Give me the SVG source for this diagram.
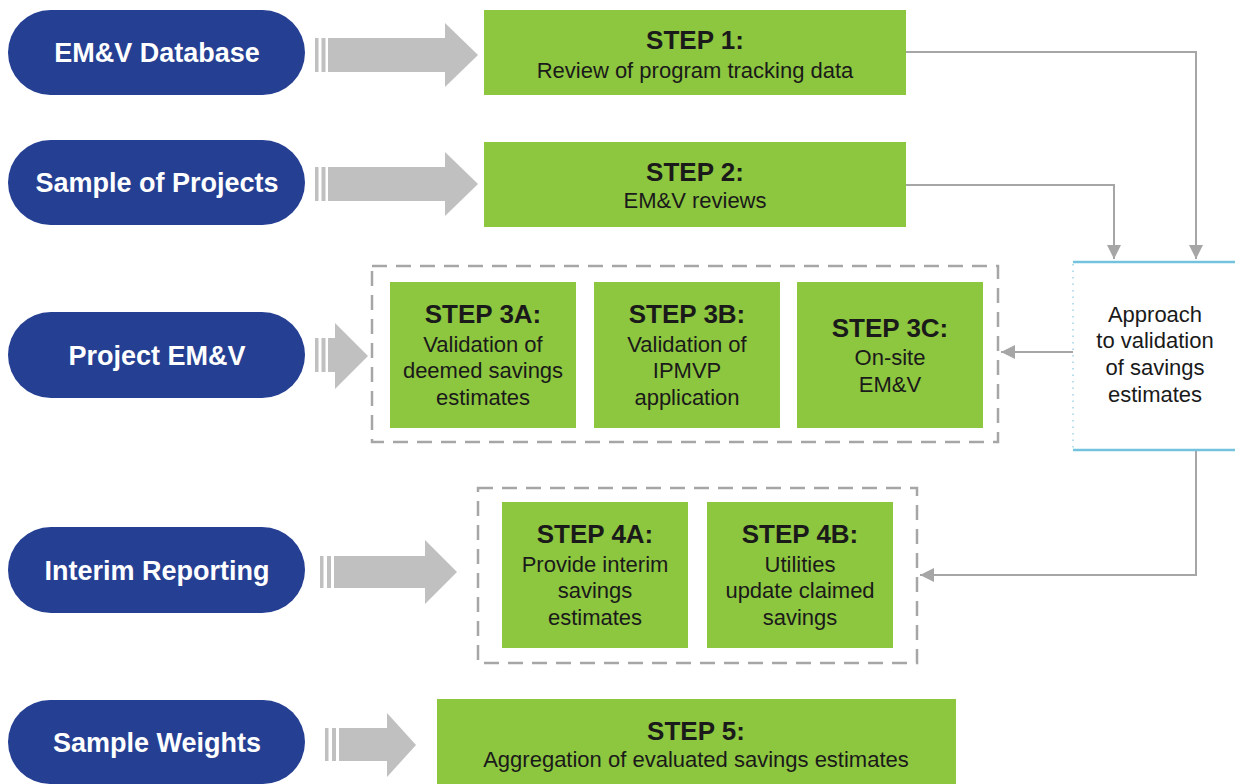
<svg xmlns="http://www.w3.org/2000/svg" width="1235" height="784" viewBox="0 0 1235 784">
<defs>
<style>
.pill{fill:#253f93}
.ptxt{font-family:"Liberation Sans",Arial,sans-serif;font-weight:bold;font-size:27px;fill:#ffffff;text-anchor:middle}
.step{fill:#8dc63f}
.t{font-family:"Liberation Sans",Arial,sans-serif;font-weight:bold;font-size:26px;fill:#1a1a1a;text-anchor:middle}
.b{font-family:"Liberation Sans",Arial,sans-serif;font-size:22px;fill:#1a1a1a;text-anchor:middle}
.big{fill:#c0c0c0}
.dash{fill:none;stroke:#a6a6a6;stroke-width:2.5;stroke-dasharray:15 9}
.conn{fill:none;stroke:#a6a6a6;stroke-width:2}
</style>
<marker id="ah" viewBox="0 0 10 10" refX="10" refY="5" markerWidth="7" markerHeight="7" orient="auto" markerUnits="strokeWidth">
<path d="M0,0 L10,5 L0,10 Z" fill="#a6a6a6"/>
</marker>
</defs>
<rect width="1235" height="784" fill="#ffffff"/>

<!-- pills -->
<g id="pill1"><rect class="pill" x="8" y="10" width="297" height="85" rx="42.5"/><text class="ptxt" x="157" y="62">EM&amp;V Database</text></g>
<g id="pill2"><rect class="pill" x="8" y="140" width="297" height="85" rx="42.5"/><text class="ptxt" x="157" y="192">Sample of Projects</text></g>
<g id="pill3"><rect class="pill" x="8" y="312" width="297" height="86" rx="43"/><text class="ptxt" x="157" y="365">Project EM&amp;V</text></g>
<g id="pill4"><rect class="pill" x="8" y="527" width="297" height="86" rx="43"/><text class="ptxt" x="157" y="580">Interim Reporting</text></g>
<g id="pill5"><rect class="pill" x="8" y="700" width="297" height="84" rx="42"/><text class="ptxt" x="157" y="752">Sample Weights</text></g>

<!-- block arrows -->
<g id="bigarrows">
<g><rect class="big" x="315" y="38" width="3.5" height="34"/><rect class="big" x="321.5" y="38" width="4" height="34"/><path class="big" d="M328,38 H445 V23 L478,55 L445,87 V72 H328 Z"/></g>
<g><rect class="big" x="315" y="167" width="3.5" height="34"/><rect class="big" x="321.5" y="167" width="4" height="34"/><path class="big" d="M328,167 H445 V152 L478,184 L445,216 V201 H328 Z"/></g>
<g><rect class="big" x="315" y="338" width="3.5" height="34"/><rect class="big" x="321.5" y="338" width="4" height="34"/><path class="big" d="M328,338 H335 V323 L368,356 L335,389 V372 H328 Z"/></g>
<g><rect class="big" x="320" y="556" width="3.5" height="32"/><rect class="big" x="327" y="556" width="4" height="32"/><path class="big" d="M334,556 H425 V540 L457,572 L425,604 V588 H334 Z"/></g>
<g><rect class="big" x="325" y="728" width="3.5" height="33"/><rect class="big" x="332" y="728" width="4" height="33"/><path class="big" d="M339,728 H387 V713 L416,745 L387,777 V761 H339 Z"/></g>
</g>

<!-- steps -->
<g id="step1"><rect class="step" x="484" y="10" width="422" height="85"/><text class="t" x="695" y="49">STEP 1:</text><text class="b" x="695" y="78">Review of program tracking data</text></g>
<g id="step2"><rect class="step" x="484" y="142" width="422" height="85"/><text class="t" x="695" y="181">STEP 2:</text><text class="b" x="695" y="208">EM&amp;V reviews</text></g>

<g id="group3"><rect class="dash" x="372" y="266" width="626" height="176"/></g>
<g id="step3a"><rect class="step" x="390" y="282" width="186" height="146"/><text class="t" x="483" y="323">STEP 3A:</text><text class="b" x="483" y="352">Validation of</text><text class="b" x="483" y="378">deemed savings</text><text class="b" x="483" y="405">estimates</text></g>
<g id="step3b"><rect class="step" x="594" y="282" width="186" height="146"/><text class="t" x="687" y="323">STEP 3B:</text><text class="b" x="687" y="352">Validation of</text><text class="b" x="687" y="378">IPMVP</text><text class="b" x="687" y="405">application</text></g>
<g id="step3c"><rect class="step" x="797" y="282" width="186" height="146"/><text class="t" x="890" y="337">STEP 3C:</text><text class="b" x="890" y="365">On-site</text><text class="b" x="890" y="392">EM&amp;V</text></g>

<g id="approach">
<rect x="1073" y="262" width="170" height="188" fill="#ffffff"/>
<line x1="1073" y1="262" x2="1235" y2="262" stroke="#74c2dd" stroke-width="2.5"/>
<line x1="1073" y1="450" x2="1235" y2="450" stroke="#74c2dd" stroke-width="2.5"/>
<line x1="1073" y1="264" x2="1073" y2="448" stroke="#9fd3e6" stroke-width="1.5" stroke-dasharray="1.5 5"/>
<text class="b" x="1155" y="322">Approach</text>
<text class="b" x="1155" y="348">to validation</text>
<text class="b" x="1155" y="375">of savings</text>
<text class="b" x="1155" y="402">estimates</text>
</g>

<g id="group4"><rect class="dash" x="478" y="488" width="439" height="175"/></g>
<g id="step4a"><rect class="step" x="502" y="502" width="186" height="146"/><text class="t" x="595" y="543">STEP 4A:</text><text class="b" x="595" y="572">Provide interim</text><text class="b" x="595" y="598">savings</text><text class="b" x="595" y="625">estimates</text></g>
<g id="step4b"><rect class="step" x="707" y="502" width="186" height="146"/><text class="t" x="800" y="543">STEP 4B:</text><text class="b" x="800" y="572">Utilities</text><text class="b" x="800" y="598">update claimed</text><text class="b" x="800" y="625">savings</text></g>

<g id="step5"><rect class="step" x="437" y="699" width="519" height="85"/><text class="t" x="696" y="740">STEP 5:</text><text class="b" x="696" y="767">Aggregation of evaluated savings estimates</text></g>

<!-- connectors -->
<g id="connectors">
<path class="conn" d="M906,52 H1196 V259" marker-end="url(#ah)"/>
<path class="conn" d="M906,185 H1114 V259" marker-end="url(#ah)"/>
<path class="conn" d="M1073,352 H1001" marker-end="url(#ah)"/>
<path class="conn" d="M1196,451 V575 H920" marker-end="url(#ah)"/>
</g>
</svg>
